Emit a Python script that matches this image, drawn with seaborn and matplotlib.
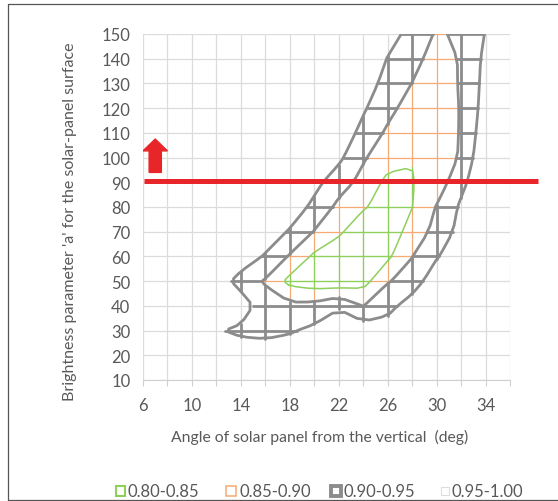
import numpy as np
import pandas as pd
import matplotlib
matplotlib.use("Agg")
import matplotlib.pyplot as plt
from matplotlib.patches import Rectangle
from matplotlib.lines import Line2D
from contourpy import contour_generator
import seaborn as sns

# Surface grid: panel angle (deg) across, brightness parameter 'a' upwards
angle = [6, 8, 10, 12, 14, 16, 18, 20, 22, 24, 26, 28, 30, 32, 34, 36]
brightness = [10, 20, 30, 40, 50, 60, 70, 80, 90, 100, 110, 120, 130, 140, 150]

# Performance ratio at every grid node, one list per brightness row (angles 6..36)
ratio_a010 = [0.98, 0.98, 0.98, 0.98, 0.98, 0.98, 0.98, 0.98, 0.98, 0.98, 0.98, 0.98, 0.98, 0.98, 0.98, 0.98]
ratio_a020 = [0.98, 0.98, 0.98, 0.98, 0.98, 0.98, 0.98, 0.98, 0.98, 0.98, 0.98, 0.98, 0.98, 0.98, 0.98, 0.98]
ratio_a030 = [0.98, 0.98, 0.98, 0.955, 0.94, 0.935, 0.945, 0.962, 0.98, 0.98, 0.98, 0.98, 0.98, 0.98, 0.98, 0.98]
ratio_a040 = [0.98, 0.98, 0.98, 0.98, 0.978, 0.922, 0.9115, 0.915, 0.945, 0.899, 0.93, 0.98, 0.98, 0.98, 0.98, 0.98]
ratio_a050 = [0.98, 0.98, 0.98, 0.98, 0.93, 0.895, 0.835, 0.82, 0.815, 0.83, 0.897, 0.917, 0.99, 0.98, 0.98, 0.98]
ratio_a060 = [0.98, 0.98, 0.98, 0.98, 0.98, 0.945, 0.895, 0.84, 0.82, 0.815, 0.84, 0.899, 0.945, 0.99, 0.98, 0.98]
ratio_a070 = [0.98, 0.98, 0.98, 0.98, 0.98, 0.98, 0.945, 0.8976, 0.858, 0.818, 0.82, 0.87, 0.915, 0.9675, 0.98, 0.98]
ratio_a080 = [0.98, 0.98, 0.98, 0.98, 0.98, 0.98, 0.98, 0.9375, 0.8875, 0.855, 0.83, 0.849, 0.903, 0.958, 0.98, 0.98]
ratio_a090 = [0.98, 0.98, 0.98, 0.98, 0.98, 0.98, 0.98, 0.965, 0.922, 0.885, 0.837, 0.848, 0.87, 0.937, 0.99, 0.98]
ratio_a100 = [0.98, 0.98, 0.98, 0.98, 0.98, 0.98, 0.98, 0.98, 0.961, 0.9055, 0.87, 0.8513, 0.865, 0.906, 0.995, 0.98]
ratio_a110 = [0.98, 0.98, 0.98, 0.98, 0.98, 0.98, 0.98, 0.98, 0.98, 0.936, 0.891, 0.87, 0.865, 0.904, 0.98, 0.98]
ratio_a120 = [0.98, 0.98, 0.98, 0.98, 0.98, 0.98, 0.98, 0.98, 0.98, 0.956, 0.916, 0.876, 0.86, 0.904, 0.97, 0.98]
ratio_a130 = [0.98, 0.98, 0.98, 0.98, 0.98, 0.98, 0.98, 0.98, 0.98, 0.965, 0.94, 0.899, 0.87, 0.905, 0.965, 0.98]
ratio_a140 = [0.98, 0.98, 0.98, 0.98, 0.98, 0.98, 0.98, 0.98, 0.98, 0.97, 0.949, 0.92, 0.8756, 0.9043, 0.9614, 0.98]
ratio_a150 = [0.98, 0.98, 0.98, 0.98, 0.98, 0.98, 0.98, 0.98, 0.98, 0.98, 0.96, 0.942, 0.893, 0.909, 0.952, 0.97]

band_edges = [0.85, 0.90, 0.95]
band_labels = ["0.80-0.85", "0.85-0.90", "0.90-0.95", "0.95-1.00"]
band_colors = ["#8fcf5c", "#f5aa74", "#8c8c8c", "#dcdcdc"]
band_widths = [1.0, 0.9, 2.0, 0.9]

threshold_a = 90.5      # horizontal marker for the brightness parameter
arrow_angle = 7.0
arrow_from, arrow_to = 94.0, 107.5

ratio = np.array([ratio_a010, ratio_a020, ratio_a030, ratio_a040, ratio_a050,
                  ratio_a060, ratio_a070, ratio_a080, ratio_a090, ratio_a100,
                  ratio_a110, ratio_a120, ratio_a130, ratio_a140, ratio_a150])

# Wireframe: every grid edge is split where it crosses a band edge and each
# piece takes the colour of the band it lies in.
records = []
seg_id = 0


def add_edge(p0, p1, v0, v1):
    global seg_id
    ts = [0.0, 1.0]
    for lv in band_edges:
        if (v0 - lv) * (v1 - lv) < 0:
            ts.append((lv - v0) / (v1 - v0))
    ts.sort()
    for ta, tb in zip(ts[:-1], ts[1:]):
        vm = v0 + (v1 - v0) * (ta + tb) / 2
        band = int(np.digitize(vm, band_edges))
        for t in (ta, tb):
            records.append({"seg": seg_id,
                            "x": p0[0] + (p1[0] - p0[0]) * t,
                            "y": p0[1] + (p1[1] - p0[1]) * t,
                            "band": band})
        seg_id += 1


for j, b in enumerate(brightness):
    for i in range(len(angle) - 1):
        add_edge((angle[i], b), (angle[i + 1], b), ratio[j, i], ratio[j, i + 1])
for i, a in enumerate(angle):
    for j in range(len(brightness) - 1):
        add_edge((a, brightness[j]), (a, brightness[j + 1]), ratio[j, i], ratio[j + 1, i])

wire = pd.DataFrame(records)


def chaikin(pts, rounds=1):
    """Corner-cutting smoothing of a contour polyline."""
    for _ in range(rounds):
        closed = np.allclose(pts[0], pts[-1])
        p, q = pts[:-1], pts[1:]
        new = np.empty((2 * len(p), 2))
        new[0::2] = 0.75 * p + 0.25 * q
        new[1::2] = 0.25 * p + 0.75 * q
        if closed:
            pts = np.vstack([new, new[:1]])
        else:
            pts = np.vstack([pts[:1], new, pts[-1:]])
    return pts


sns.set_theme(style="white")
plt.rcParams["font.family"] = ["Lato", "DejaVu Sans"]
text_color = "#595959"

W, H = 558, 502
fig = plt.figure(figsize=(W / 100, H / 100), dpi=100)
fig.patch.set_facecolor("white")
ax = fig.add_axes([143 / W, (H - 381) / H, (510 - 143) / W, (381 - 35) / H])

zorders = {3: 1, 1: 2, 0: 3, 2: 5}
for band in [3, 1, 0, 2]:
    sns.lineplot(data=wire[wire["band"] == band], x="x", y="y", units="seg",
                 estimator=None, color=band_colors[band],
                 linewidth=band_widths[band], zorder=zorders[band],
                 solid_capstyle="round", legend=False, ax=ax)

# Band boundaries
gen = contour_generator(x=angle, y=brightness, z=ratio)
for level, color, lw, z in [(0.85, band_colors[0], 1.1, 4),
                            (0.90, band_colors[2], 2.0, 6),
                            (0.95, band_colors[2], 2.0, 6)]:
    for line in gen.lines(level):
        sm = chaikin(np.asarray(line))
        ax.plot(sm[:, 0], sm[:, 1], color=color, linewidth=lw, zorder=z,
                solid_joinstyle="round", solid_capstyle="round")

# Red threshold line and arrow
ax.plot([6.1, 38.3], [threshold_a, threshold_a], color="#e8262a", linewidth=3.6,
        solid_capstyle="butt", clip_on=False, zorder=8)
ax.arrow(arrow_angle, arrow_from, 0, arrow_to - arrow_from, width=1.0,
         head_width=2.0, head_length=4.8, length_includes_head=True,
         color="#e8262a", zorder=8)

ax.set_xlim(6, 36)
ax.set_ylim(10, 150)
ax.set_xticks(list(range(6, 35, 4)))
ax.set_xticks(list(range(6, 37, 2)), minor=True)
ax.set_yticks(brightness)
ax.tick_params(axis="x", which="both", length=4, width=0.8, color="#d0d0d0",
               labelsize=12, labelcolor=text_color, pad=8, bottom=True)
ax.tick_params(axis="y", length=0, labelsize=12, labelcolor=text_color, pad=9)
ax.grid(False)
for side in ["top", "right", "left"]:
    ax.spines[side].set_visible(False)
ax.spines["bottom"].set_color("#d0d0d0")
ax.spines["bottom"].set_linewidth(0.8)
ax.set_facecolor("white")

ax.set_xlabel("Angle of solar panel from the vertical  (deg)", fontsize=11.3,
              color=text_color)
ax.xaxis.set_label_coords((320 - 143) / (510 - 143), (381 - 437) / (381 - 35))
ax.xaxis.label.set_va("center")
ax.set_ylabel("Brightness parameter 'a' for the solar-panel surface",
              fontsize=11.5, color=text_color)
ax.yaxis.set_label_coords((70 - 143) / (510 - 143), (381 - 222) / (381 - 35))
ax.yaxis.label.set_va("center")

# Overlay in pixel units for the legend and frame
ov = fig.add_axes([0, 0, 1, 1], zorder=-1)
ov.set_xlim(0, W)
ov.set_ylim(H, 0)
ov.axis("off")
ov.patch.set_visible(False)

frame = "#555555"
ov.add_line(Line2D([7.5, 7.5], [4.5, 500.5], color=frame, linewidth=0.9))
ov.add_line(Line2D([7.5, W], [4.5, 4.5], color=frame, linewidth=0.9))
ov.add_line(Line2D([7.5, W], [500.5, 500.5], color=frame, linewidth=0.9))

legend_y = 492
ov.add_patch(Rectangle((115.5, legend_y - 5), 9.5, 9.5, facecolor="white",
                       edgecolor=band_colors[0], linewidth=1.5))
ov.add_patch(Rectangle((226, legend_y - 5), 9.5, 9.5, facecolor="white",
                       edgecolor=band_colors[1], linewidth=1.1))
ov.add_patch(Rectangle((331, legend_y - 5), 9.5, 9.5, facecolor="white",
                       edgecolor=band_colors[2], linewidth=2.8))
ov.add_patch(Rectangle((440.5, legend_y - 4), 8, 8, facecolor="white",
                       edgecolor="#dddddd", linewidth=0.8))
for x0, lab in zip([127, 239, 344, 452], band_labels):
    ov.text(x0, legend_y, lab, fontsize=12, color=text_color, ha="left",
            va="center")

fig.savefig("out.png", dpi=100, facecolor="white")
